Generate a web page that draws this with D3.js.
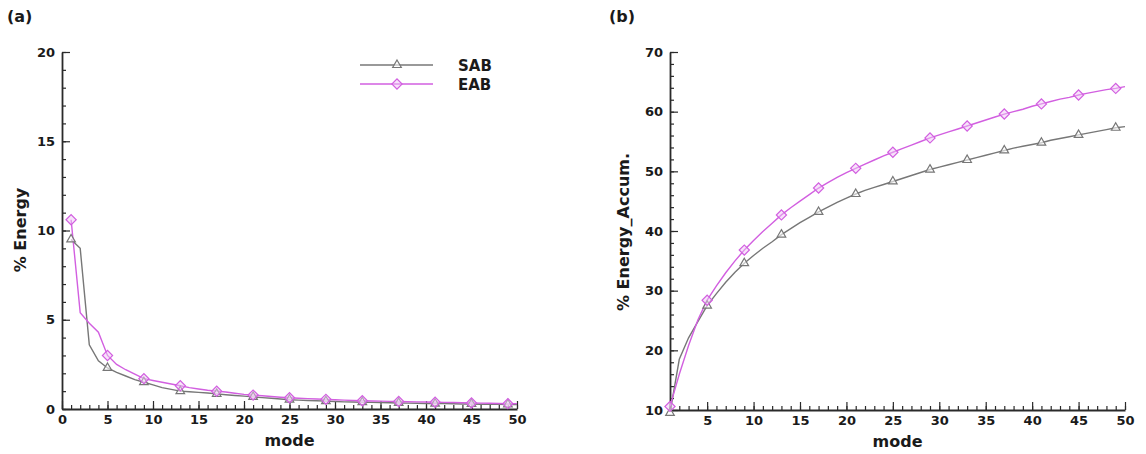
<!DOCTYPE html>
<html>
<head>
<meta charset="utf-8">
<script src="https://cdn.jsdelivr.net/npm/d3@7"></script>
<style>
  html, body { margin: 0; padding: 0; background: #fff; }
  svg { display: block; }
  text { font-family: "DejaVu Sans", sans-serif; font-weight: bold; fill: #1a1a1a; }
</style>
</head>
<body>
<svg id="chart" width="1146" height="454"></svg>
<script>
// ---------------- data ----------------
const modes = d3.range(1, 51);
const markerModes = [1, 5, 9, 13, 17, 21, 25, 29, 33, 37, 41, 45, 49];
const seriesNames = ["SAB", "EAB"];

// Panel (a): % Energy per mode
const sabEnergy = [9.5, 9.0, 3.6, 2.7, 2.3, 2.05, 1.85, 1.65, 1.5, 1.35,
  1.2, 1.1, 1.0, 0.97, 0.93, 0.9, 0.85, 0.8, 0.76, 0.72,
  0.68, 0.64, 0.6, 0.56, 0.52, 0.5, 0.48, 0.46, 0.44, 0.42,
  0.4, 0.39, 0.38, 0.37, 0.36, 0.35, 0.34, 0.33, 0.32, 0.31,
  0.3, 0.3, 0.29, 0.28, 0.28, 0.27, 0.26, 0.26, 0.25, 0.25];
const eabEnergy = [10.6, 5.4, 4.8, 4.3, 3.0, 2.5, 2.2, 1.95, 1.7, 1.6,
  1.5, 1.4, 1.3, 1.2, 1.12, 1.05, 1.0, 0.95, 0.88, 0.82,
  0.78, 0.74, 0.7, 0.66, 0.63, 0.6, 0.58, 0.56, 0.54, 0.52,
  0.5, 0.48, 0.46, 0.45, 0.44, 0.43, 0.42, 0.41, 0.4, 0.39,
  0.38, 0.37, 0.36, 0.35, 0.34, 0.33, 0.32, 0.31, 0.3, 0.3];

// Panel (b): % Energy accumulated
const sabAccum = [9.5, 18.5, 22.1, 24.8, 27.5, 29.5, 31.4, 33.1, 34.6, 35.9,
  37.1, 38.2, 39.4, 40.4, 41.4, 42.3, 43.2, 44.0, 44.8, 45.5,
  46.2, 46.8, 47.3, 47.8, 48.3, 48.8, 49.3, 49.8, 50.3, 50.7,
  51.1, 51.5, 51.9, 52.3, 52.7, 53.1, 53.5, 53.9, 54.2, 54.5,
  54.8, 55.2, 55.5, 55.8, 56.1, 56.4, 56.7, 57.0, 57.3, 57.5];
const eabAccum = [10.6, 16.0, 20.8, 25.1, 28.4, 30.8, 33.0, 35.0, 36.8, 38.4,
  39.9, 41.3, 42.7, 43.9, 45.0, 46.1, 47.2, 48.1, 49.0, 49.8,
  50.5, 51.2, 51.9, 52.6, 53.2, 53.8, 54.4, 55.0, 55.6, 56.1,
  56.6, 57.1, 57.6, 58.1, 58.6, 59.1, 59.6, 60.0, 60.4, 60.9,
  61.3, 61.7, 62.1, 62.4, 62.8, 63.1, 63.4, 63.7, 63.9, 64.2];

const xTicksA = [0, 5, 10, 15, 20, 25, 30, 35, 40, 45, 50];
const yTicksA = [0, 5, 10, 15, 20];
const xTicksB = [5, 10, 15, 20, 25, 30, 35, 40, 45, 50];
const yTicksB = [10, 20, 30, 40, 50, 60, 70];

// ---------------- styles ----------------
const colors = { SAB: "#777777", EAB: "#d25fe0" };
const axisColor = "#2a2a2a";

const svg = d3.select("#chart");
svg.append("rect").attr("width", 1146).attr("height", 454).attr("fill", "#fff");

function drawPanel(opt) {
  const g = svg.append("g");
  const x = d3.scaleLinear().domain(opt.xDomain).range([opt.left, opt.right]);
  const y = d3.scaleLinear().domain(opt.yDomain).range([opt.bottom, opt.top]);

  const clipId = "clip" + opt.id;
  svg.append("clipPath").attr("id", clipId).append("rect")
    .attr("x", opt.left).attr("y", opt.top - 5)
    .attr("width", opt.right - opt.left + 5).attr("height", opt.bottom - opt.top + 5);

  // minor ticks
  g.append("g").attr("transform", `translate(0,${opt.bottom})`)
    .call(d3.axisBottom(x).tickValues(opt.xMinor).tickSize(-4).tickFormat("").tickSizeOuter(0))
    .call(a => a.select(".domain").remove());
  g.append("g").attr("transform", `translate(${opt.left},0)`)
    .call(d3.axisLeft(y).tickValues(opt.yMinor).tickSize(-4).tickFormat("").tickSizeOuter(0))
    .call(a => a.select(".domain").remove());

  // major ticks
  const xa = g.append("g").attr("transform", `translate(0,${opt.bottom})`)
    .call(d3.axisBottom(x).tickValues(opt.xTicks).tickSize(-8).tickPadding(6).tickSizeOuter(0));
  const ya = g.append("g").attr("transform", `translate(${opt.left},0)`)
    .call(d3.axisLeft(y).tickValues(opt.yTicks).tickSize(-8).tickPadding(7).tickSizeOuter(0));

  [xa, ya].forEach(a => {
    a.selectAll("text").style("font-size", "13px").attr("fill", "#1a1a1a")
      .style("font-family", "DejaVu Sans").style("font-weight", "bold");
  });
  g.selectAll(".tick line").attr("stroke", axisColor).attr("stroke-width", 1.2);
  g.selectAll(".domain").attr("stroke", axisColor).attr("stroke-width", 1.8);

  const line = d3.line().x((d, i) => x(modes[i])).y(d => y(d));
  opt.series.forEach(s => {
    g.append("path").datum(s.values)
      .attr("clip-path", `url(#${clipId})`)
      .attr("fill", "none").attr("stroke", colors[s.name]).attr("stroke-width", 1.4)
      .attr("d", line);
  });
  opt.series.forEach(s => {
    const pts = markerModes.map(m => [x(m), y(s.values[m - 1])]);
    drawMarkers(g, pts, s.name);
  });

  // axis titles
  svg.append("text").attr("x", (opt.left + opt.right) / 2).attr("y", opt.bottom + 37)
    .attr("text-anchor", "middle").style("font-size", "16px").text("mode");
  svg.append("text")
    .attr("transform", `translate(${opt.yTitleX},${opt.yTitleY}) rotate(-90)`)
    .attr("text-anchor", "middle").style("font-size", "16px").text(opt.yTitle);
  svg.append("text").attr("x", opt.labelX).attr("y", 22).style("font-size", "16px").text(opt.label);
}

function drawMarkers(g, pts, name) {
  const isSab = name === "SAB";
  g.selectAll(null).data(pts).enter().append("path")
    .attr("transform", d => `translate(${d[0]},${d[1]})` + (isSab ? "" : " rotate(45)"))
    .attr("d", d3.symbol().type(isSab ? d3.symbolTriangle : d3.symbolSquare).size(isSab ? 32 : 52))
    .attr("fill", isSab ? "rgba(255,255,255,0.6)" : "rgba(240,200,245,0.5)")
    .attr("stroke", colors[name]).attr("stroke-width", 1.2);
}

drawPanel({
  id: "a", left: 62, right: 517, top: 52, bottom: 409,
  xDomain: [0, 50], yDomain: [0, 20],
  xTicks: xTicksA, yTicks: yTicksA,
  xMinor: d3.range(0, 51), yMinor: d3.range(0, 21),
  series: [{ name: "SAB", values: sabEnergy }, { name: "EAB", values: eabEnergy }],
  yTitle: "% Energy", yTitleX: 26, yTitleY: 230, label: "(a)", labelX: 7
});

drawPanel({
  id: "b", left: 670, right: 1125, top: 52, bottom: 410,
  xDomain: [1, 50], yDomain: [10, 70],
  xTicks: xTicksB, yTicks: yTicksB,
  xMinor: d3.range(1, 51), yMinor: d3.range(10, 71, 2),
  series: [{ name: "SAB", values: sabAccum }, { name: "EAB", values: eabAccum }],
  yTitle: "% Energy_Accum.", yTitleX: 629, yTitleY: 232, label: "(b)", labelX: 609
});

// legend (panel a)
const leg = svg.append("g");
seriesNames.forEach((n, i) => {
  const yy = 65 + i * 19;
  leg.append("line").attr("x1", 360).attr("x2", 433).attr("y1", yy).attr("y2", yy)
    .attr("stroke", colors[n]).attr("stroke-width", 1.4);
  drawMarkers(leg, [[397, yy]], n);
  leg.append("text").attr("x", 458).attr("y", yy + 5.5).style("font-size", "15px").text(n);
});
</script>
</body>
</html>
